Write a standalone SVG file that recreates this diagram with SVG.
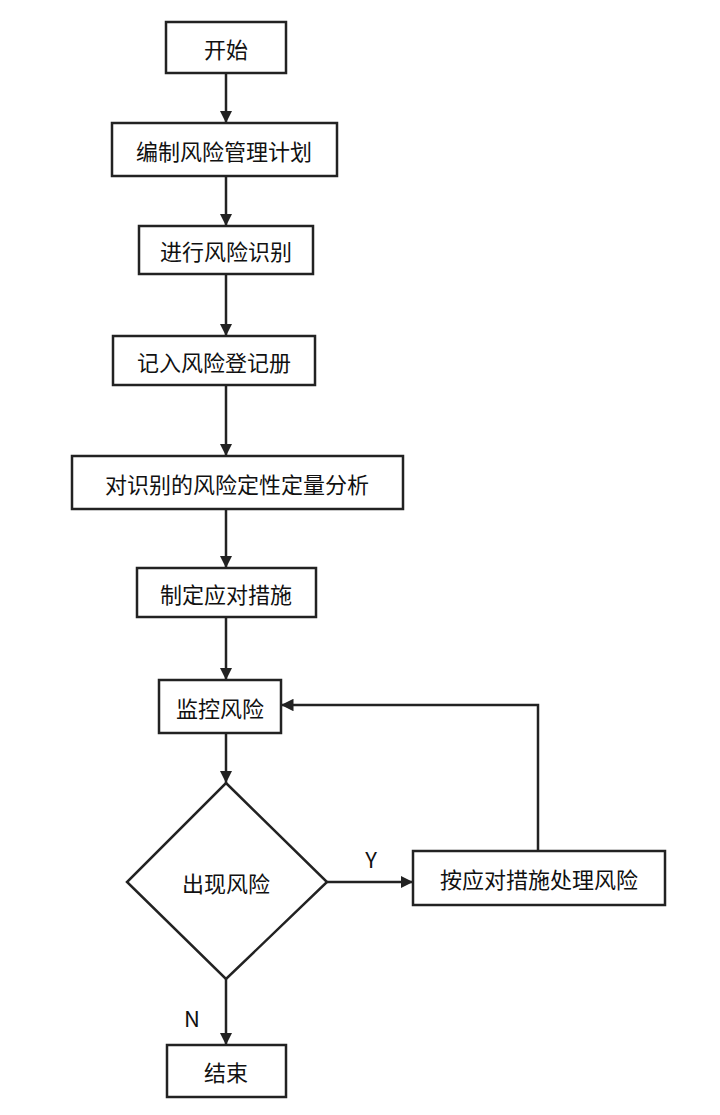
<svg xmlns="http://www.w3.org/2000/svg" width="720" height="1115" viewBox="0 0 720 1115">
<style>
.b{fill:#fff;stroke:#222;stroke-width:2.5}
.t{font-family:"Noto Sans CJK SC","Liberation Sans",sans-serif;font-size:22px;fill:#111;text-anchor:middle;dominant-baseline:central}
.c{stroke:#222;stroke-width:2.5;fill:none;marker-end:url(#a)}
</style>
<defs><marker id="a" viewBox="0 0 10 10" refX="10" refY="5" markerWidth="5" markerHeight="5" orient="auto"><path d="M0,0L10,5L0,10z" fill="#222"/></marker></defs>
<rect width="720" height="1115" fill="#fff"/>
<g id="connectors">
<path class="c" d="M226,73V123"/>
<path class="c" d="M226,176V226"/>
<path class="c" d="M226,274V336"/>
<path class="c" d="M226,385V456"/>
<path class="c" d="M226,509V568"/>
<path class="c" d="M226,617V680"/>
<path class="c" d="M226,733V783"/>
<path class="c" d="M327,882H413"/>
<path class="c" d="M538,851V705H281"/>
<path class="c" d="M226,979V1045"/>
<text class="t" x="371" y="858">Y</text>
<text class="t" x="192" y="1017">N</text>
</g>
<g id="start"><rect class="b" x="166" y="22" width="120" height="51"/><text class="t" x="226" y="48">开始</text></g>
<g id="n1"><rect class="b" x="112" y="123" width="225" height="53"/><text class="t" x="224" y="150">编制风险管理计划</text></g>
<g id="n2"><rect class="b" x="139" y="226" width="174" height="48"/><text class="t" x="226" y="250">进行风险识别</text></g>
<g id="n3"><rect class="b" x="113" y="336" width="202" height="49"/><text class="t" x="214" y="361">记入风险登记册</text></g>
<g id="n4"><rect class="b" x="72" y="456" width="331" height="53"/><text class="t" x="237" y="483">对识别的风险定性定量分析</text></g>
<g id="n5"><rect class="b" x="137" y="568" width="179" height="49"/><text class="t" x="226" y="593">制定应对措施</text></g>
<g id="n6"><rect class="b" x="159" y="680" width="122" height="53"/><text class="t" x="220" y="707">监控风险</text></g>
<g id="d"><path class="b" d="M226,783L327,882L226,979L127,882z"/><text class="t" x="226" y="882">出现风险</text></g>
<g id="n7"><rect class="b" x="413" y="851" width="252" height="54"/><text class="t" x="539" y="878">按应对措施处理风险</text></g>
<g id="end"><rect class="b" x="167" y="1045" width="119" height="52"/><text class="t" x="226" y="1071">结束</text></g>
</svg>
